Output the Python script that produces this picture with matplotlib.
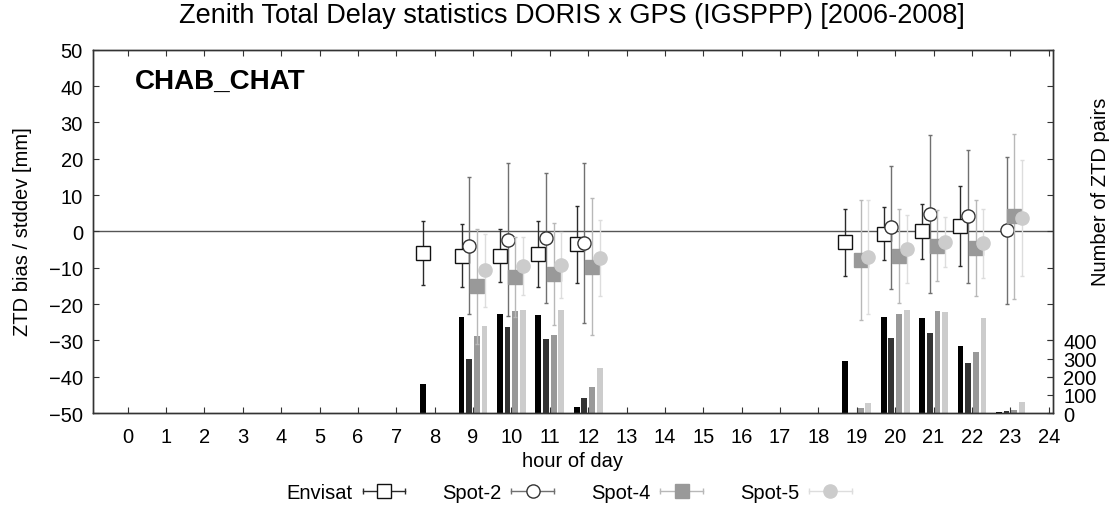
import numpy as np
import matplotlib
matplotlib.use("Agg")
import matplotlib.pyplot as plt
from matplotlib.lines import Line2D
from matplotlib.legend_handler import HandlerLine2D

plt.rcParams['font.family'] = ['Liberation Sans', 'DejaVu Sans']

nan = np.nan

# hours with data
hours = np.array([8, 9, 10, 11, 12, 19, 20, 21, 22, 23])

# number of ZTD pairs per hour
env_n = [158, 527, 547, 541, 31, 288, 530, 525, 367, 7]
sp2_n = [0, 297, 472, 406, 84, 0, 411, 439, 273, 13]
sp4_n = [0, 425, 560, 429, 145, 26, 547, 560, 337, 16]
sp5_n = [0, 481, 569, 567, 246, 53, 565, 556, 523, 59]

# ZTD bias and stddev [mm]
env_bias = [-6.0, -6.7, -6.7, -6.2, -3.6, -3.0, -0.6, 0.0, 1.6, nan]
env_std = [8.8, 8.7, 7.3, 9.0, 10.5, 9.2, 7.4, 7.5, 11.0, nan]
sp2_bias = [nan, -3.9, -2.3, -1.8, -3.2, nan, 1.1, 4.7, 4.1, 0.3]
sp2_std = [nan, 18.8, 21.0, 17.9, 22.0, nan, 17.0, 21.8, 18.2, 20.2]
sp4_bias = [nan, -15.1, -12.5, -11.7, -9.7, -7.8, -6.8, -3.9, -4.6, 4.1]
sp4_std = [nan, 15.8, 11.0, 14.0, 18.9, 16.5, 13.0, 9.7, 13.1, 22.8]
sp5_bias = [nan, -10.7, -9.6, -9.2, -7.4, -7.1, -4.9, -2.9, -3.3, 3.7]
sp5_std = [nan, 10.1, 8.0, 9.1, 10.5, 15.6, 9.3, 6.9, 9.5, 15.9]

names = ['Envisat', 'Spot-2', 'Spot-4', 'Spot-5']
counts = [env_n, sp2_n, sp4_n, sp5_n]
biases = [env_bias, sp2_bias, sp4_bias, sp5_bias]
stds = [env_std, sp2_std, sp4_std, sp5_std]

offsets = [-0.3, -0.1, 0.1, 0.3]
bar_cols = ['#000000', '#333333', '#999999', '#cccccc']
err_cols = ['#2a2a2a', '#707070', '#b8b8b8', '#dddddd']
mk = ['s', 'o', 's', 'o']
mfc = ['white', 'white', '#999999', '#cccccc']
mec = ['#111111', '#333333', '#999999', '#cccccc']

frame = '#333333'
fs = 14.5

fig = plt.figure(figsize=(11.09, 5.06), dpi=100)
ax = fig.add_axes([0.0836, 0.1818, 0.8662, 0.7180])
axz = ax.twinx()

# bars: number of pairs (right axis)
for i in range(4):
    ax.bar(hours + offsets[i], counts[i], width=0.15, color=bar_cols[i], zorder=1)
ax.set_ylim(0, 2000)
ax.set_yticks([0, 100, 200, 300, 400])
ax.set_xlim(-0.91, 24.12)
ax.set_xticks(range(0, 25))
ax.yaxis.tick_right()
ax.tick_params(axis='y', left=False, right=True, labelleft=False, labelright=True,
               direction='in', length=4, width=0.8, color=frame, pad=7, labelsize=fs)
ax.tick_params(axis='x', top=True, bottom=True, direction='in', length=4, width=0.8,
               color=frame, pad=10, labelsize=fs)

# bias / stddev (left axis)
axz.axhline(0, color='#555555', lw=1, zorder=1)
for i in range(4):
    axz.errorbar(hours + offsets[i], biases[i], yerr=stds[i], fmt=mk[i], ms=9.5,
                 mfc=mfc[i], mec=mec[i], mew=1, ecolor=err_cols[i], elinewidth=1,
                 capsize=1.6, capthick=1, zorder=3 + i)
axz.set_ylim(-50, 50)
axz.set_yticks(range(-50, 51, 10))
axz.yaxis.tick_left()
axz.tick_params(axis='y', left=True, right=True, labelleft=True, labelright=False,
                direction='in', length=4, width=0.8, color=frame, pad=7, labelsize=fs)

for a in (ax, axz):
    for s in a.spines.values():
        s.set_color(frame)
        s.set_linewidth(1)

axz.text(0.044, 0.914, 'CHAB_CHAT', transform=axz.transAxes, fontsize=20,
         fontweight='bold', va='center', ha='left')

fig.text(572 / 1109, 1 - 16 / 506, 'Zenith Total Delay statistics DORIS x GPS (IGSPPP) [2006-2008]',
         ha='center', va='center', fontsize=19.5)
fig.text(572 / 1109, 1 - 462 / 506, 'hour of day', ha='center', va='center', fontsize=fs)
fig.text(23 / 1109, 1 - 232 / 506, 'ZTD bias / stddev [mm]', rotation=90,
         ha='center', va='center', fontsize=fs)
fig.text(1100 / 1109, 1 - 192 / 506, 'Number of ZTD pairs', rotation=90,
         ha='center', va='center', fontsize=fs)

# gnuplot-like key: text, then |--marker--|
handles = []
hmap = {}
for i in range(4):
    cap = Line2D([], [], color=err_cols[i], lw=1, marker='|', ms=5, mew=1)
    pt = Line2D([], [], ls='none', marker=mk[i], ms=9.5, mfc=mfc[i], mec=mec[i], mew=1)
    hmap[cap] = HandlerLine2D(numpoints=2)
    hmap[pt] = HandlerLine2D(numpoints=1)
    handles.append((cap, pt))
fig.legend(handles, names, handler_map=hmap, loc='center', ncol=4,
           bbox_to_anchor=(572 / 1109, 1 - 494 / 506), frameon=False, markerfirst=False,
           fontsize=fs, handlelength=2.7, handletextpad=0.2, columnspacing=1.55)

fig.savefig('out.png', dpi=100)
